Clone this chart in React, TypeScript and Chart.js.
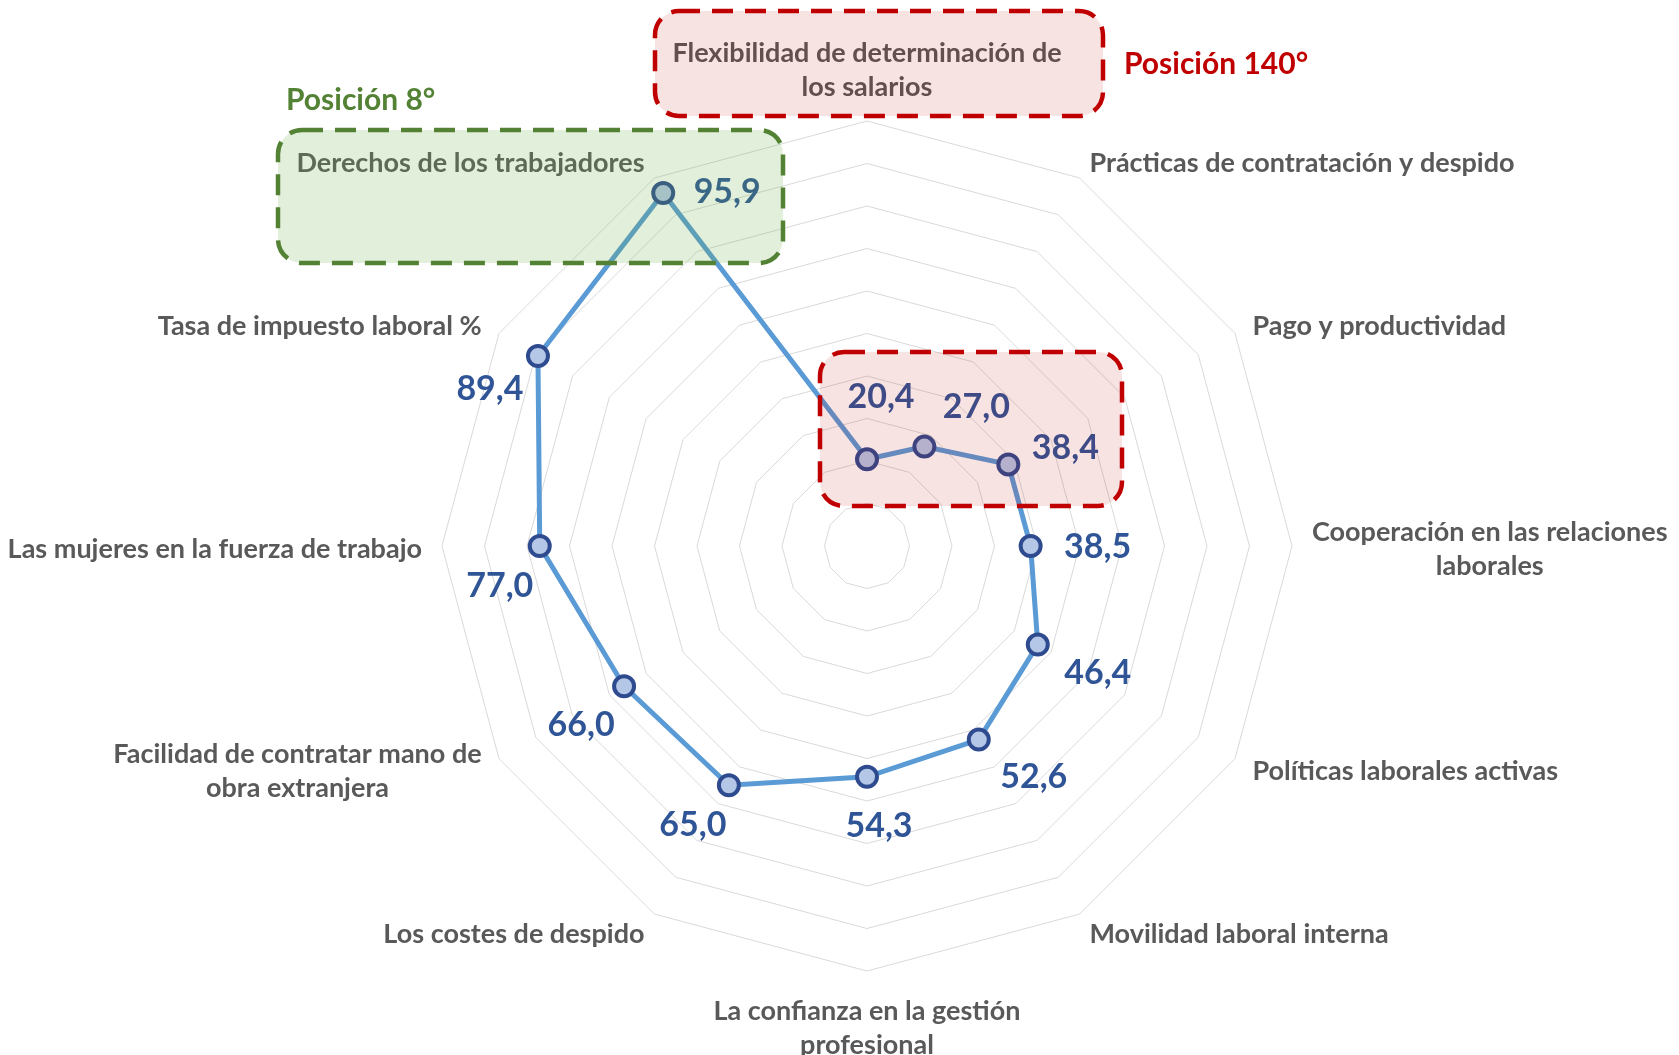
import React, { useEffect, useRef } from "react";
import { Chart, registerables } from "chart.js";

Chart.register(...registerables);

// ---------- data ----------
const categories: (string | string[])[] = [
  ["Flexibilidad de determinación de", "los salarios"],
  "Prácticas de contratación y despido",
  "Pago y productividad",
  ["Cooperación en las relaciones", "laborales"],
  "Políticas laborales activas",
  "Movilidad laboral interna",
  ["La confianza en la gestión", "profesional"],
  "Los costes de despido",
  ["Facilidad de contratar mano de", "obra extranjera"],
  "Las mujeres en la fuerza de trabajo",
  "Tasa de impuesto laboral %",
  "Derechos de los trabajadores",
];

const values: number[] = [20.4, 27.0, 38.4, 38.5, 46.4, 52.6, 54.3, 65.0, 66.0, 77.0, 89.4, 95.9];

const scaleMin = 0;
const scaleMax = 100;
const scaleStep = 10;

const bestText = "Posición 8°";
const worstText = "Posición 140°";

// ---------- styling (offsets of value labels from their points, px) ----------
const valueLabelOffsets: [number, number][] = [
  [14, -62], [52, -40], [57, -16], [67, 1], [60, 28], [55, 37],
  [12, 49], [-36, 40], [-43, 39], [-40, 40], [-48, 33], [64, -1],
];

const FONT = "Lato, 'Open Sans', sans-serif";
const CAT_FONT_SIZE = 27;
const CAT_LINE_H = 34;
const CAT_Y_SHIFT = 3;
const VAL_FONT_SIZE = 34;
const POS_FONT_SIZE = 30;
const LABEL_GAP = 20;

const fmt = (v: number) => v.toFixed(1).replace(".", ",");

function roundRectPath(ctx: CanvasRenderingContext2D, x: number, y: number, w: number, h: number, r: number) {
  ctx.beginPath();
  ctx.moveTo(x + r, y);
  ctx.lineTo(x + w - r, y);
  ctx.arcTo(x + w, y, x + w, y + r, r);
  ctx.lineTo(x + w, y + h - r);
  ctx.arcTo(x + w, y + h, x + w - r, y + h, r);
  ctx.lineTo(x + r, y + h);
  ctx.arcTo(x, y + h, x, y + h - r, r);
  ctx.lineTo(x, y + r);
  ctx.arcTo(x, y, x + r, y, r);
  ctx.closePath();
}

function drawBox(ctx: CanvasRenderingContext2D, x: number, y: number, w: number, h: number, fill: string, stroke: string) {
  ctx.save();
  roundRectPath(ctx, x, y, w, h, 24);
  ctx.fillStyle = fill;
  ctx.fill();
  ctx.setLineDash([21, 12]);
  ctx.lineWidth = 4.5;
  ctx.strokeStyle = stroke;
  ctx.stroke();
  ctx.restore();
}

const overlayPlugin = {
  id: "overlay",
  afterDatasetsDraw(chart: any) {
    const ctx: CanvasRenderingContext2D = chart.ctx;
    const scale = chart.scales.r;
    const meta = chart.getDatasetMeta(0);
    ctx.save();

    // value labels
    ctx.font = `bold ${VAL_FONT_SIZE}px ${FONT}`;
    ctx.fillStyle = "#2F5597";
    ctx.textAlign = "center";
    ctx.textBaseline = "middle";
    meta.data.forEach((pt: any, i: number) => {
      const [dx, dy] = valueLabelOffsets[i];
      ctx.fillText(fmt(values[i]), pt.x + dx, pt.y + dy);
    });

    // category labels
    ctx.font = `bold ${CAT_FONT_SIZE}px ${FONT}`;
    ctx.fillStyle = "#595959";
    const n = categories.length;
    for (let i = 0; i < n; i++) {
      const lines = Array.isArray(categories[i]) ? (categories[i] as string[]) : [categories[i] as string];
      const pos = scale.getPointPosition(i, scale.drawingArea + LABEL_GAP);
      const deg = (i * 360) / n;
      const blockW = Math.max(...lines.map((l) => ctx.measureText(l).width));
      const blockH = lines.length * CAT_LINE_H;
      let left: number;
      let top: number;
      if (deg === 0) {
        left = pos.x - blockW / 2;
        top = pos.y - blockH;
      } else if (deg === 180) {
        left = pos.x - blockW / 2;
        top = pos.y;
      } else if (deg < 180) {
        left = pos.x;
        top = pos.y - blockH / 2;
      } else {
        left = pos.x - blockW;
        top = pos.y - blockH / 2;
      }
      lines.forEach((l, k) => {
        ctx.fillText(l, left + blockW / 2, top + CAT_LINE_H * (k + 0.5) + CAT_Y_SHIFT);
      });
    }

    // highlight boxes
    drawBox(ctx, 278, 130, 505, 133, "rgba(112,173,71,0.2)", "#548235");
    drawBox(ctx, 655, 11, 448, 105, "rgba(192,0,0,0.11)", "#C00000");
    drawBox(ctx, 820, 352, 302, 154, "rgba(192,0,0,0.11)", "#C00000");

    // position texts
    ctx.font = `bold ${POS_FONT_SIZE}px ${FONT}`;
    ctx.textAlign = "left";
    ctx.fillStyle = "#548235";
    ctx.fillText(bestText, 286, 100);
    ctx.fillStyle = "#C00000";
    ctx.fillText(worstText, 1124, 64);

    ctx.restore();
  },
};

export default function App() {
  const ref = useRef<HTMLCanvasElement | null>(null);

  useEffect(() => {
    if (!ref.current) return;
    const chart = new Chart(ref.current, {
      type: "radar",
      data: {
        labels: categories,
        datasets: [
          {
            data: values,
            borderColor: "#5B9BD5",
            borderWidth: 5,
            backgroundColor: "rgba(0,0,0,0)",
            fill: false,
            pointRadius: 10,
            pointBorderWidth: 4,
            pointBackgroundColor: "#B4C7E7",
            pointBorderColor: "#2F4B8F",
            tension: 0,
          },
        ],
      },
      options: {
        responsive: false,
        animation: false,
        layout: { padding: { left: 442, top: 121, right: 387, bottom: 84 } },
        plugins: {
          legend: { display: false },
          tooltip: { enabled: false },
          title: { display: false },
        },
        scales: {
          r: {
            min: scaleMin,
            max: scaleMax,
            ticks: { display: false, stepSize: scaleStep },
            grid: { color: "#D9D9D9", lineWidth: 1, circular: false },
            angleLines: { display: false },
            pointLabels: { display: false },
          },
        },
      },
      plugins: [overlayPlugin],
    });
    return () => chart.destroy();
  }, []);

  return (
    <canvas
      ref={ref}
      width={1679}
      height={1055}
      style={{ position: "fixed", left: 0, top: 0, display: "block", background: "#ffffff" }}
    />
  );
}
